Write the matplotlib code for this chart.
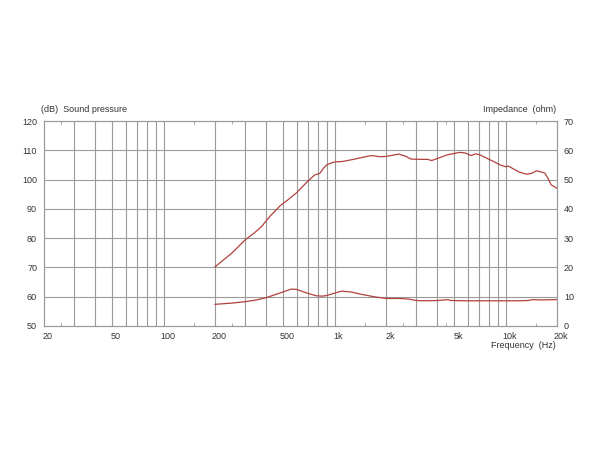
import matplotlib
matplotlib.use('Agg')
import matplotlib.pyplot as plt
import matplotlib.transforms as mtransforms

plt.rcParams['font.family'] = ['Liberation Sans', 'DejaVu Sans']

# Sound pressure level (dB), 200 Hz - 20 kHz
spl_f = [200, 250, 300, 340, 375, 420, 480, 540, 600, 650, 700, 766, 820, 860,
         900, 950, 1000, 1120, 1290, 1410, 1640, 1850, 2000, 2370, 2600, 2800,
         3200, 3500, 3700, 4000, 4600, 5000, 5400, 5800, 6300, 6700, 7100, 7700,
         8500, 9300, 10000, 10400, 11000, 12000, 13300, 14300, 15200, 16200,
         17000, 17800, 18500, 20000]
spl = [70.2, 74.8, 79.4, 81.8, 84.0, 87.5, 91.0, 93.3, 95.5, 97.6, 99.5, 101.6,
       102.1, 103.8, 105.0, 105.6, 106.0, 106.2, 106.9, 107.4, 108.2, 107.8,
       107.9, 108.7, 108.0, 107.0, 106.9, 106.9, 106.5, 107.2, 108.5, 108.9,
       109.3, 109.1, 108.2, 108.8, 108.4, 107.4, 106.2, 105.0, 104.4, 104.6,
       103.8, 102.6, 101.8, 102.2, 103.0, 102.6, 102.2, 100.2, 98.2, 97.0]

# Impedance (ohm)
imp_f = [200, 250, 300, 350, 400, 450, 510, 560, 600, 670, 730, 785, 850, 900,
         1000, 1100, 1250, 1440, 1700, 2000, 2400, 2700, 3000, 3500, 4000, 4400,
         4600, 4800, 6000, 8000, 10000, 12000, 13500, 14500, 16000, 20000]
imp = [7.4, 7.8, 8.3, 8.9, 9.7, 10.7, 11.8, 12.6, 12.5, 11.5, 10.8, 10.3, 10.2,
       10.4, 11.2, 11.9, 11.6, 10.8, 10.0, 9.4, 9.4, 9.2, 8.7, 8.6, 8.7, 8.9,
       9.0, 8.7, 8.6, 8.6, 8.6, 8.6, 8.7, 9.0, 8.9, 9.0]

xticks = [20, 50, 100, 200, 500, 1000, 2000, 5000, 10000, 20000]
xlabels = ['20', '50', '100', '200', '500', '1k', '2k', '5k', '10k', '20k']
vgrid = [30, 40, 50, 60, 70, 80, 90, 100, 200, 300, 400, 500, 600, 700, 800,
         900, 1000, 2000, 3000, 4000, 5000, 6000, 7000, 8000, 9000, 10000]
minor_x = [25, 150, 250, 1500, 2500, 4500, 15000]

grid_c = '#9a9a9a'
text_c = '#333333'
line_c = '#b0413e'
fs = 6.5

fig = plt.figure(figsize=(6, 4.5), dpi=100)
ax1 = fig.add_axes([0.0733, 0.2756, 0.855, 0.4555])
ax1.set_xscale('log')
ax1.set_xlim(20, 20000)
ax1.set_ylim(50, 120)

for f in vgrid:
    ax1.axvline(f, color=grid_c, lw=0.8, zorder=1)
for v in range(60, 120, 10):
    ax1.axhline(v, color=grid_c, lw=0.8, zorder=1)

ax1.plot(spl_f, spl, color=line_c, lw=0.9, zorder=3)

ax1.set_xticks(xticks)
ax1.set_xticklabels(xlabels)
ax1.set_xticks(minor_x, minor=True)
ax1.set_xticklabels([], minor=True)
ax1.tick_params(axis='x', which='major', length=0, labelsize=fs, labelcolor=text_c, pad=4)
ax1.tick_params(axis='x', which='minor', direction='in', length=2.5, color=grid_c,
                top=True, bottom=True)
offset = mtransforms.ScaledTranslation(4 / 100, 0, fig.dpi_scale_trans)
for lab in ax1.get_xticklabels():
    lab.set_transform(lab.get_transform() + offset)

ax1.set_yticks(range(50, 121, 10))
ax1.tick_params(axis='y', length=0, labelsize=fs, labelcolor=text_c, pad=5)

ax2 = ax1.twinx()
ax2.set_ylim(0, 70)
ax2.plot(imp_f, imp, color=line_c, lw=0.9, zorder=3)
ax2.set_yticks(range(0, 71, 10))
ax2.tick_params(axis='y', length=0, labelsize=fs, labelcolor=text_c, pad=5)

for ax in (ax1, ax2):
    for s in ax.spines.values():
        s.set_color(grid_c)
        s.set_linewidth(0.8)

ax1.text(-0.005, 1.035, '(dB)  Sound pressure', transform=ax1.transAxes,
         ha='left', va='bottom', fontsize=fs, color=text_c)
ax1.text(0.998, 1.035, 'Impedance  (ohm)', transform=ax1.transAxes,
         ha='right', va='bottom', fontsize=fs, color=text_c)
ax1.text(0.998, -0.075, 'Frequency  (Hz)', transform=ax1.transAxes,
         ha='right', va='top', fontsize=fs, color=text_c)

fig.savefig('out.png', dpi=100)
